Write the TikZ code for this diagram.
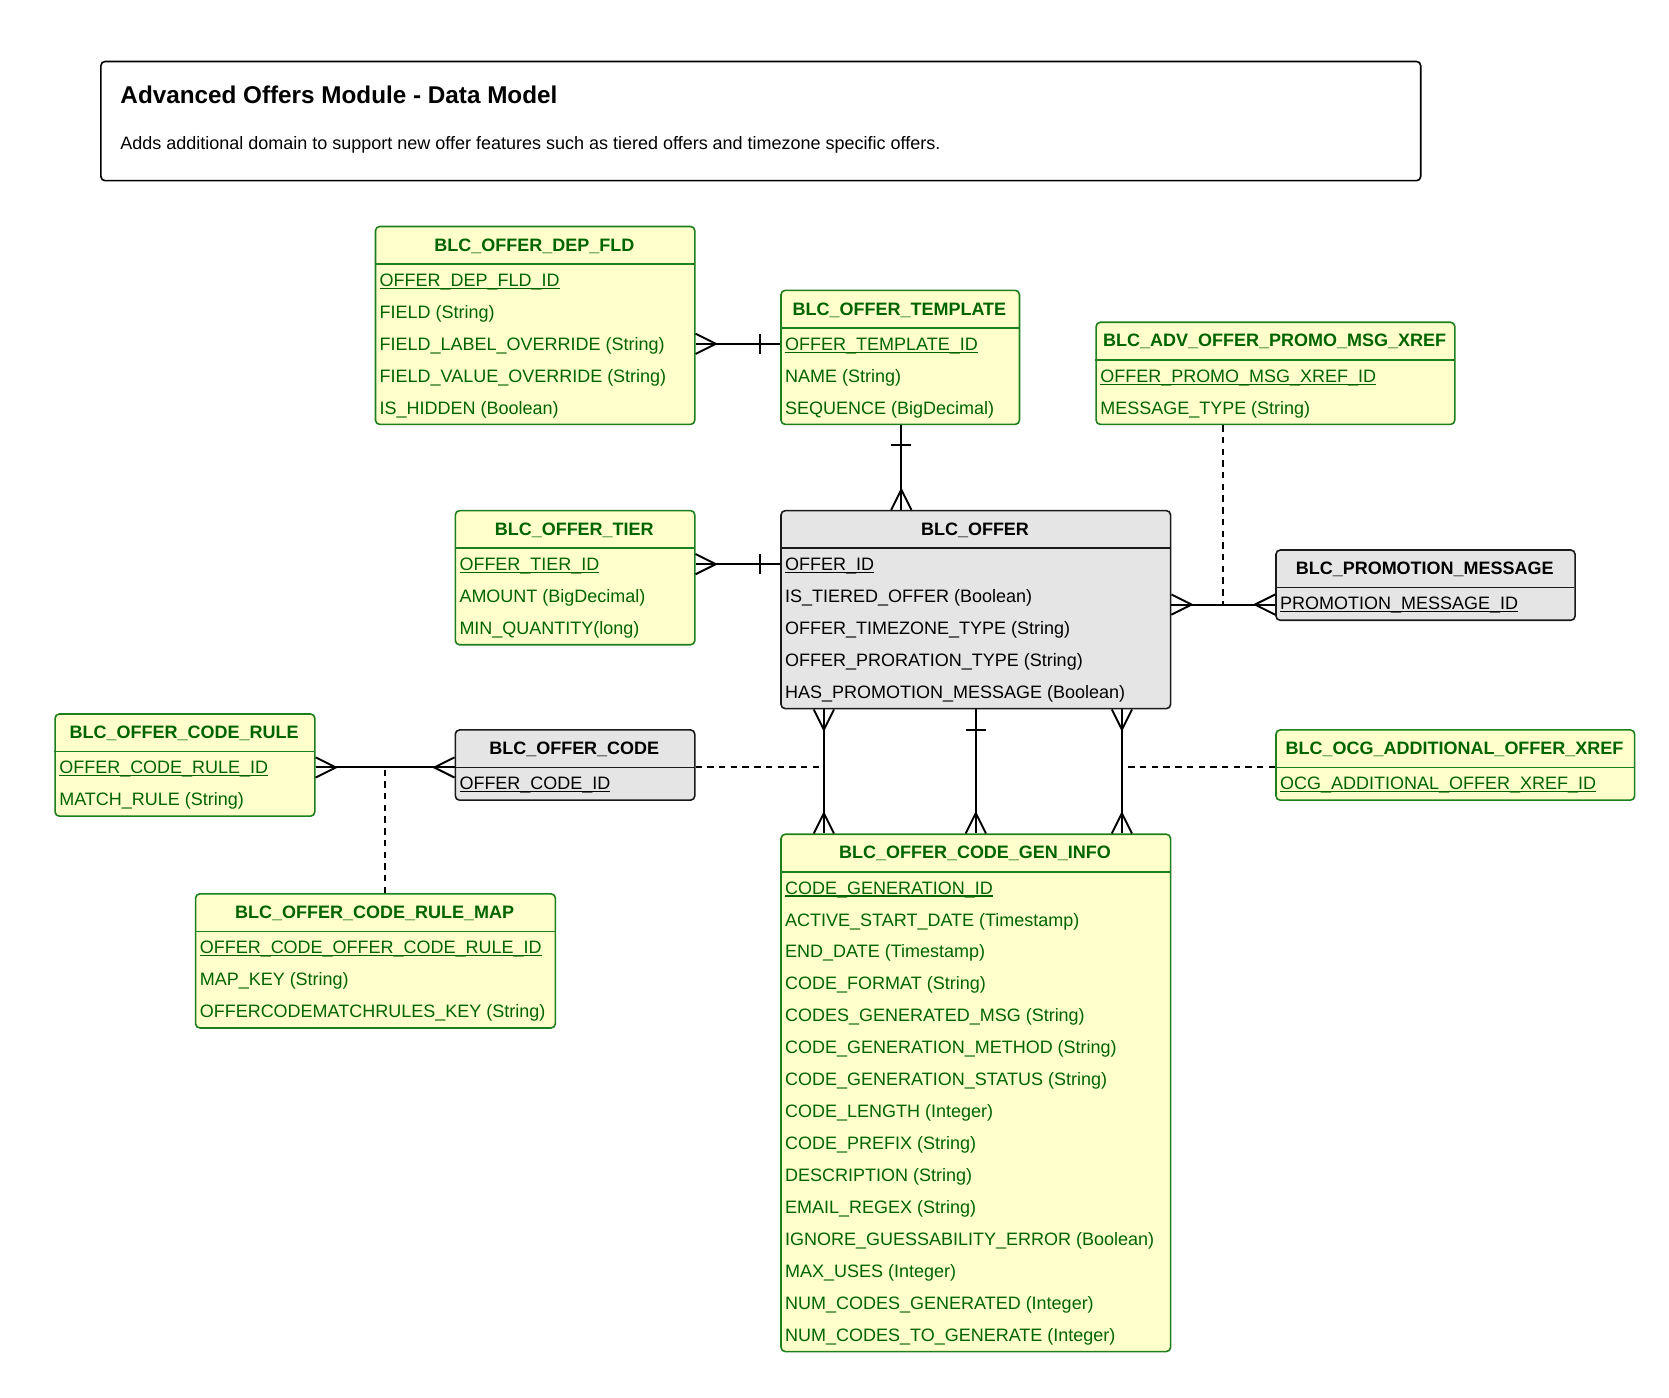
\documentclass[tikz,border=0pt]{standalone}
\usepackage{fontspec}
\setmainfont{Liberation Sans}
\usetikzlibrary{calc}
\definecolor{entgreen}{HTML}{1E7F1E}
\definecolor{txtgreen}{HTML}{006400}
\definecolor{entfill}{HTML}{FFFFCC}
\definecolor{entgray}{HTML}{E5E5E5}
\definecolor{entdark}{HTML}{1A1A1A}
\newcommand\rowfont{\fontsize{16.9}{19}\selectfont}
\tikzset{
  boxg/.style={draw=entgreen, fill=entfill, line width=1.5pt, rounded corners=4pt, inner sep=0pt},
  boxk/.style={draw=entdark, fill=entgray, line width=1.5pt, rounded corners=4pt, inner sep=0pt},
  sepg/.style={draw=entgreen, line width=1.5pt},
  sepk/.style={draw=entdark, line width=1.5pt},
  headg/.style={text=txtgreen, font=\rowfont\bfseries, inner sep=0pt, text height=12pt, text depth=0pt, anchor=center},
  headk/.style={text=black, font=\rowfont\bfseries, inner sep=0pt, text height=12pt, text depth=0pt, anchor=center},
  rowg/.style={text=txtgreen, font=\rowfont, inner sep=0pt, text height=12pt, text depth=0pt, anchor=west},
  rowk/.style={text=black, font=\rowfont, inner sep=0pt, text height=12pt, text depth=0pt, anchor=west},
  conn/.style={draw=black, line width=1.8pt},
  dconn/.style={draw=black, line width=1.8pt, dash pattern=on 6pt off 5pt},
  titlebox/.style={draw=black, line width=1.5pt, rounded corners=4pt, fill=white, inner sep=0pt},
}
% #1 id, #2 x, #3 y, #4 width, #5 kind g/k, #6 title, #7 number of rows, #8 rows
\newcommand\entbox[8]{%
  \node[box#5, anchor=north west, minimum width=#4pt, minimum height={(36+30*#7)*1pt}] (#1) at (#2,#3) {};
  \draw[sep#5] (#2,{#3+36}) -- ++(#4,0);
  \node[head#5] (#1-t) at ({#2+#4/2},{#3+18}) {#6};
  \foreach \rr [count=\ri] in {#8} {
    \node[row#5] (#1-\ri) at ({#2+4.5},{#3+51+30*(\ri-1)}) {\rr};
  }%
}
\newcommand\crow[2]{\draw[conn, shift={(#1)}, rotate=#2] (0,-9.5) -- (19,0) -- (0,9.5);}
\newcommand\onebar[2]{\draw[conn, shift={(#1)}, rotate=#2] (19,-9.5) -- (19,9.5);}
\newcommand\ul[1]{\setbox0\hbox{#1}\rlap{\rule[-2.3pt]{\wd0}{1pt}}\box0}
\begin{document}
\begin{tikzpicture}[x=1pt,y=-1pt]
\useasboundingbox (0,0) rectangle (1568,1313);
\fill[white] (0,0) rectangle (1568,1313);

% title box
\node[titlebox, anchor=north west, minimum width=1240pt, minimum height=112pt] (tbox) at (94,57) {};
\node[anchor=base west, inner sep=0pt, font=\fontsize{22.8}{26}\selectfont\bfseries] (ttl) at (113,97) {Advanced Offers Module - Data Model};
\node[anchor=base west, inner sep=0pt, font=\fontsize{16.9}{19}\selectfont] (sub) at (113,140) {Adds additional domain to support new offer features such as tiered offers and timezone specific offers.};

% entities
\entbox{dep}{352}{212}{300}{g}{BLC\_OFFER\_DEP\_FLD}{5}{\ul{OFFER\_DEP\_FLD\_ID}, FIELD (String), FIELD\_LABEL\_OVERRIDE (String), FIELD\_VALUE\_OVERRIDE (String), IS\_HIDDEN (Boolean)}
\entbox{tmpl}{733}{272}{224}{g}{BLC\_OFFER\_TEMPLATE}{3}{\ul{OFFER\_TEMPLATE\_ID}, NAME (String), SEQUENCE (BigDecimal)}
\entbox{adv}{1029}{302}{337}{g}{BLC\_ADV\_OFFER\_PROMO\_MSG\_XREF}{2}{\ul{OFFER\_PROMO\_MSG\_XREF\_ID}, MESSAGE\_TYPE (String)}
\entbox{tier}{427}{479}{225}{g}{BLC\_OFFER\_TIER}{3}{\ul{OFFER\_TIER\_ID}, AMOUNT (BigDecimal), MIN\_QUANTITY(long)}
\entbox{offer}{733}{479}{366}{k}{BLC\_OFFER}{5}{\ul{OFFER\_ID}, IS\_TIERED\_OFFER (Boolean), OFFER\_TIMEZONE\_TYPE (String), OFFER\_PRORATION\_TYPE (String), HAS\_PROMOTION\_MESSAGE (Boolean)}
\entbox{promo}{1198}{516}{281}{k}{BLC\_PROMOTION\_MESSAGE}{1}{\ul{PROMOTION\_MESSAGE\_ID}}
\entbox{rule}{51}{670}{244}{g}{BLC\_OFFER\_CODE\_RULE}{2}{\ul{OFFER\_CODE\_RULE\_ID}, MATCH\_RULE (String)}
\entbox{code}{427}{685}{225}{k}{BLC\_OFFER\_CODE}{1}{\ul{OFFER\_CODE\_ID}}
\entbox{ocg}{1198}{685}{337}{g}{BLC\_OCG\_ADDITIONAL\_OFFER\_XREF}{1}{\ul{OCG\_ADDITIONAL\_OFFER\_XREF\_ID}}
\entbox{gen}{733}{783}{366}{g}{BLC\_OFFER\_CODE\_GEN\_INFO}{15}{\ul{CODE\_GENERATION\_ID}, ACTIVE\_START\_DATE (Timestamp), END\_DATE (Timestamp), CODE\_FORMAT (String), CODES\_GENERATED\_MSG (String), CODE\_GENERATION\_METHOD (String), CODE\_GENERATION\_STATUS (String), CODE\_LENGTH (Integer), CODE\_PREFIX (String), DESCRIPTION (String), EMAIL\_REGEX (String), IGNORE\_GUESSABILITY\_ERROR (Boolean), MAX\_USES (Integer), NUM\_CODES\_GENERATED (Integer), NUM\_CODES\_TO\_GENERATE (Integer)}
\entbox{map}{183}{839}{338}{g}{BLC\_OFFER\_CODE\_RULE\_MAP}{3}{\ul{OFFER\_CODE\_OFFER\_CODE\_RULE\_ID}, MAP\_KEY (String), OFFERCODEMATCHRULES\_KEY (String)}

% connector points
\coordinate (c1a) at (dep.east |- tmpl-1);
\coordinate (c1b) at (tmpl.west |- tmpl-1);
\coordinate (c2a) at ($(tmpl.south)+(1,0)$);
\coordinate (c2b) at (c2a |- offer.north);
\coordinate (c3a) at (tier.east |- offer-1);
\coordinate (c3b) at (offer.west |- offer-1);
\coordinate (c4a) at ($(offer.east |- promo-1)+(0,1)$);
\coordinate (c4b) at (promo.west |- c4a);
\coordinate (c4d) at ($(adv.south)+(-49.5,0)$);
\coordinate (v1t) at ($(offer.south west)+(41,0)$);
\coordinate (v1b) at (v1t |- gen.north);
\coordinate (v2t) at (offer.south);
\coordinate (v2b) at (gen.north);
\coordinate (v3t) at ($(offer.south east)+(-46.5,0)$);
\coordinate (v3b) at (v3t |- gen.north);
\coordinate (c7a) at (rule.east |- rule-1);
\coordinate (c7b) at (code.west |- rule-1);
\coordinate (c7d) at ($(map.north west)+(179,0)$);

% dashed links
\draw[dconn] (c4d) -- (c4d |- c4a);
\draw[dconn] (code.east |- rule-1) -- (v1t |- rule-1);
\draw[dconn] (ocg.west |- rule-1) -- (v3t |- rule-1);
\draw[dconn] (c7d) -- (c7d |- rule-1);

% solid links
\draw[conn] (c1a) -- (c1b); \crow{c1a}{0} \onebar{c1b}{180}
\draw[conn] (c2a) -- (c2b); \onebar{c2a}{-90} \crow{c2b}{90}
\draw[conn] (c3a) -- (c3b); \crow{c3a}{0} \onebar{c3b}{180}
\draw[conn] (c4a) -- (c4b); \crow{c4a}{0} \crow{c4b}{180}
\draw[conn] (v1t) -- (v1b); \crow{v1t}{-90} \crow{v1b}{90}
\draw[conn] (v2t) -- (v2b); \onebar{v2t}{-90} \crow{v2b}{90}
\draw[conn] (v3t) -- (v3b); \crow{v3t}{-90} \crow{v3b}{90}
\draw[conn] (c7a) -- (c7b); \crow{c7a}{0} \crow{c7b}{180}
\end{tikzpicture}
\end{document}
